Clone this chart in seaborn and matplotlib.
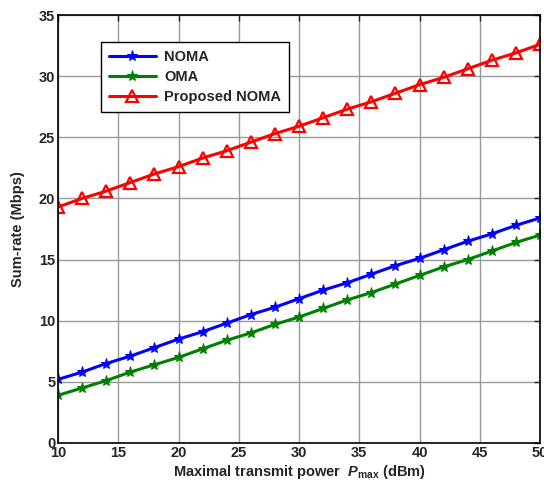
import matplotlib
matplotlib.use("Agg")
import matplotlib.pyplot as plt
import seaborn as sns
import pandas as pd

x_power = [10, 12, 14, 16, 18, 20, 22, 24, 26, 28, 30, 32, 34, 36, 38, 40, 42, 44, 46, 48, 50]
noma = [5.2, 5.8, 6.5, 7.1, 7.8, 8.5, 9.1, 9.8, 10.5, 11.1, 11.8, 12.5, 13.1, 13.8, 14.5, 15.1, 15.8, 16.5, 17.1, 17.8, 18.4]
oma = [3.9, 4.5, 5.1, 5.8, 6.4, 7.0, 7.7, 8.4, 9.0, 9.7, 10.3, 11.0, 11.7, 12.3, 13.0, 13.7, 14.4, 15.0, 15.7, 16.4, 17.0]
proposed = [19.3, 20.0, 20.6, 21.3, 22.0, 22.6, 23.3, 23.9, 24.6, 25.3, 25.9, 26.6, 27.3, 27.9, 28.6, 29.3, 29.9, 30.6, 31.3, 31.9, 32.6]
series_names = ["NOMA", "OMA", "Proposed NOMA"]
x_ticks = [10, 15, 20, 25, 30, 35, 40, 45, 50]
y_ticks = [0, 5, 10, 15, 20, 25, 30, 35]

sns.set_style("white")
plt.rcParams['font.family'] = ['Liberation Sans', 'DejaVu Sans']
plt.rcParams['font.weight'] = 'bold'
plt.rcParams['mathtext.fontset'] = 'custom'
plt.rcParams['mathtext.it'] = 'Liberation Sans:italic:bold'
plt.rcParams['mathtext.rm'] = 'Liberation Sans:bold'
plt.rcParams['mathtext.bf'] = 'Liberation Sans:bold'

fig = plt.figure(figsize=(5.44, 4.88), dpi=100)
ax = fig.add_axes([58/544, 1 - 443/488, (540-58)/544, (443-15)/488])

df = pd.DataFrame({"x": x_power * 3,
                   "y": noma + oma + proposed,
                   "s": [series_names[0]] * len(x_power) + [series_names[1]] * len(x_power) + [series_names[2]] * len(x_power)})

styles = {
    "NOMA": dict(color="#0000ff", marker="*", markersize=8, markerfacecolor="#0000ff", markeredgecolor="#0000ff"),
    "OMA": dict(color="#008000", marker="*", markersize=8, markerfacecolor="#008000", markeredgecolor="#008000"),
    "Proposed NOMA": dict(color="#ff0000", marker="^", markersize=8, markerfacecolor="none", markeredgecolor="#ff0000", markeredgewidth=1.6),
}
for name in series_names:
    sub = df[df["s"] == name]
    sns.lineplot(data=sub, x="x", y="y", ax=ax, label=name, linewidth=2.2, **styles[name])

ax.set_xlim(10, 50)
ax.set_ylim(0, 35)
ax.set_xticks(x_ticks)
ax.set_yticks(y_ticks)
ax.tick_params(direction="in", length=4, width=1, top=True, right=True, labelsize=10.5, pad=2)
for lbl in ax.get_xticklabels() + ax.get_yticklabels():
    lbl.set_fontweight("bold")
ax.grid(True, color="#999999", linewidth=1.0, linestyle="-")
for sp in ax.spines.values():
    sp.set_visible(True)
    sp.set_color("black")
    sp.set_linewidth(1.2)

ax.set_xlabel(r"Maximal transmit power  $P_{\mathrm{max}}$ (dBm)", fontsize=10.5, fontweight="bold", labelpad=2)
ax.set_ylabel("Sum-rate (Mbps)", fontsize=10.5, fontweight="bold", labelpad=10)

leg = ax.legend(loc="upper left", bbox_to_anchor=((101-58)/482, (443-42)/428), fontsize=10.5,
                frameon=True, fancybox=False, edgecolor="black", framealpha=1, borderaxespad=0,
                handlelength=3.2, borderpad=0.55, labelspacing=0.4, handletextpad=0.6)
leg.get_frame().set_linewidth(1.0)
for t in leg.get_texts():
    t.set_fontweight("bold")

fig.savefig("out.png", dpi=100)
